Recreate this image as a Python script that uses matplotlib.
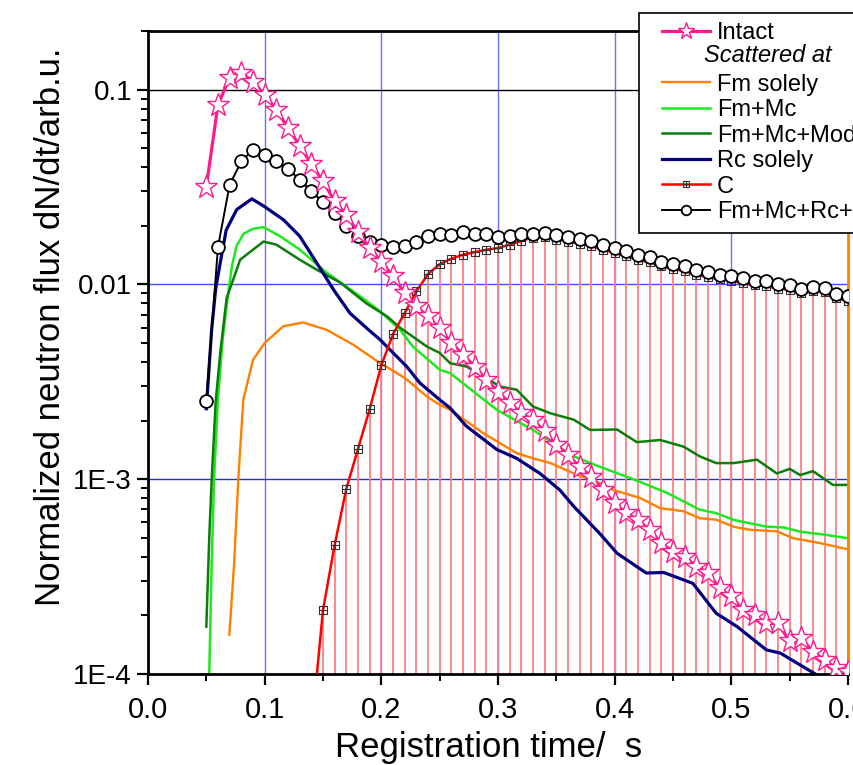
import numpy as np
import matplotlib
matplotlib.use("Agg")
import matplotlib.pyplot as plt
from matplotlib.path import Path
from matplotlib.lines import Line2D
from matplotlib.legend_handler import HandlerLine2D
from matplotlib.ticker import FixedLocator, FixedFormatter, NullFormatter

plt.rcParams['font.family'] = ['Liberation Sans', 'DejaVu Sans']

# ---------------- data ----------------
t_grid = np.round(np.arange(0.05, 0.6051, 0.01), 2)          # 0.05 .. 0.60

intact = [0.0318, 0.0837, 0.115, 0.122, 0.110, 0.0942, 0.0789, 0.0635, 0.0515, 0.0415,
          0.0338, 0.0267, 0.0228, 0.0185, 0.0154, 0.0131, 0.0110, 0.00903, 0.00771, 0.00685,
          0.00597, 0.00500, 0.00436, 0.00379, 0.00324, 0.00282, 0.00246, 0.00218, 0.00202, 0.00176,
          0.00150, 0.00133, 0.00116, 0.00103, 0.00088, 0.000753, 0.000670, 0.000618, 0.000549, 0.000470,
          0.000425, 0.000401, 0.000356, 0.000330, 0.000276, 0.000250, 0.000213, 0.000201, 0.000182, 0.000182,
          0.000147, 0.000153, 0.000130, 0.000118, 0.000107, 0.000102]

total = [0.00253, 0.0156, 0.0325, 0.0428, 0.0492, 0.0464, 0.0428, 0.0392, 0.0345, 0.0301,
         0.0264, 0.0234, 0.0199, 0.0178, 0.0166, 0.0160, 0.0156, 0.0157, 0.0166, 0.0177,
         0.0182, 0.0179, 0.0186, 0.0182, 0.0182, 0.0175, 0.0177, 0.0182, 0.0182, 0.0184,
         0.0179, 0.0175, 0.0172, 0.0168, 0.0160, 0.0154, 0.0149, 0.0141, 0.0138, 0.0131,
         0.0127, 0.0124, 0.0119, 0.0116, 0.0112, 0.0110, 0.0108, 0.01045, 0.01036, 0.01005,
         0.00988, 0.0095, 0.0097, 0.0096, 0.00893, 0.00867]

t_c = np.round(np.arange(0.14, 0.6051, 0.01), 2)              # 0.14 .. 0.60
c_only = [5e-5, 2.13e-4, 4.60e-4, 8.93e-4, 1.43e-3, 2.29e-3, 3.84e-3, 5.56e-3, 7.13e-3, 9.2e-3,
          0.0113, 0.0127, 0.01356, 0.01422, 0.01466, 0.01507, 0.01538, 0.0160, 0.01676, 0.0174,
          0.0176, 0.0170, 0.0166, 0.0162, 0.0158, 0.0151, 0.0145, 0.0140, 0.0133, 0.0130,
          0.0124, 0.0120, 0.0117, 0.0112, 0.0109, 0.0106, 0.0104, 0.0102, 0.0099, 0.0098,
          0.0095, 0.0094, 0.0090, 0.0092, 0.0091, 0.0085, 0.0082]

t_rc = [0.05, 0.0545, 0.058, 0.062, 0.067, 0.076, 0.089, 0.0994, 0.116, 0.130, 0.1446, 0.159,
        0.173, 0.189, 0.199, 0.2217, 0.233, 0.25, 0.259, 0.273, 0.299, 0.316, 0.336, 0.353,
        0.365, 0.387, 0.402, 0.427, 0.442, 0.467, 0.487, 0.505, 0.530, 0.542, 0.572, 0.58]
rc_solely = [0.0023, 0.0058, 0.0095, 0.013, 0.019, 0.0242, 0.0275, 0.0252, 0.0215, 0.0177, 0.0129, 0.0094,
             0.00713, 0.00585, 0.0052, 0.00379, 0.00312, 0.00256, 0.00232, 0.00187, 0.00142, 0.00128, 0.00107, 0.00088,
             7.24e-4, 5.28e-4, 4.17e-4, 3.30e-4, 3.32e-4, 2.92e-4, 2.05e-4, 1.75e-4, 1.33e-4, 1.28e-4, 1.0e-4, 9.2e-5]

t_fmmc = [0.0525, 0.0545, 0.0566, 0.060, 0.064, 0.068, 0.072, 0.076, 0.082, 0.090, 0.099, 0.113,
          0.130, 0.153, 0.182, 0.199, 0.216, 0.227, 0.25, 0.259, 0.299, 0.330, 0.365, 0.387,
          0.416, 0.445, 0.473, 0.487, 0.502, 0.530, 0.545, 0.559, 0.579, 0.60]
fm_mc = [1e-4, 3.5e-4, 1e-3, 2.6e-3, 5.2e-3, 8.3e-3, 0.0125, 0.0158, 0.0182, 0.0193, 0.0197, 0.0177,
         0.0151, 0.0115, 0.00867, 0.00727, 0.00585, 0.0048, 0.00365, 0.0035, 0.00227, 0.00179, 0.00131, 0.00116,
         0.00100, 8.5e-4, 6.97e-4, 6.7e-4, 6.18e-4, 5.71e-4, 5.65e-4, 5.38e-4, 5.2e-4, 4.98e-4]

t_mod = [0.050, 0.0525, 0.0546, 0.058, 0.062, 0.0674, 0.079, 0.099, 0.110, 0.130, 0.1446, 0.165,
         0.187, 0.205, 0.216, 0.239, 0.25, 0.259, 0.273, 0.287, 0.302, 0.316, 0.330, 0.345,
         0.365, 0.379, 0.402, 0.419, 0.439, 0.459, 0.473, 0.487, 0.502, 0.522, 0.539, 0.550,
         0.559, 0.570, 0.587, 0.60]
fm_mc_mod = [1.75e-4, 5e-4, 1e-3, 2.5e-3, 4.5e-3, 0.0085, 0.0134, 0.0166, 0.0160, 0.0134, 0.0119, 0.0102,
             0.0080, 0.00685, 0.0060, 0.0048, 0.00445, 0.00394, 0.00379, 0.00337, 0.00299, 0.00288, 0.00236, 0.00218,
             0.00202, 0.00179, 0.0018, 0.00155, 0.00159, 0.00147, 0.00131, 0.00121, 0.00121, 0.00126, 0.00107, 0.00113,
             0.00105, 0.0011, 9.35e-4, 9.35e-4]

t_fm = [0.0697, 0.0737, 0.0774, 0.0817, 0.090, 0.100, 0.116, 0.133, 0.153, 0.176, 0.199, 0.216,
        0.222, 0.239, 0.25, 0.259, 0.287, 0.316, 0.330, 0.345, 0.365, 0.387, 0.399, 0.422,
        0.439, 0.459, 0.473, 0.487, 0.502, 0.516, 0.539, 0.553, 0.576, 0.599]
fm_solely = [1.59e-4, 3.6e-4, 1e-3, 0.00256, 0.0041, 0.0050, 0.0061, 0.00638, 0.00585, 0.0049, 0.00394, 0.00343,
             0.00324, 0.00266, 0.00241, 0.00227, 0.00173, 0.00136, 0.00128, 0.00121, 0.00107, 9.55e-4, 8.8e-4, 8.0e-4,
             7.1e-4, 6.85e-4, 6.3e-4, 6.2e-4, 5.7e-4, 5.5e-4, 5.4e-4, 4.98e-4, 4.7e-4, 4.38e-4]

x_ticks = [0.0, 0.1, 0.2, 0.3, 0.4, 0.5, 0.6]
x_tick_labels = ['0.0', '0.1', '0.2', '0.3', '0.4', '0.5', '0.6']
y_ticks = [1e-4, 1e-3, 1e-2, 1e-1]
y_tick_labels = ['1E-4', '1E-3', '0.01', '0.1']
legend_labels = ['Intact', 'Scattered at', 'Fm solely', 'Fm+Mc', 'Fm+Mc+Mod', 'Rc solely', 'C', 'Fm+Mc+Rc+C']

# ---------------- figure ----------------
fig = plt.figure(figsize=(8.54, 7.65), dpi=100)
ax = fig.add_axes([148/854, 91/765, 700/854, 643/765])
ax.set_yscale('log')
ax.set_xlim(0.0, 0.6)
ax.set_ylim(1e-4, 0.2)

# grid-like reference lines
for xv in [0.1, 0.2, 0.3, 0.4, 0.5]:
    ax.axvline(xv, color='#6f6fff', lw=1.0, zorder=0.5)
ax.axhline(0.1, color='black', lw=1.0, zorder=0.5)
ax.axhline(0.01, color='#4a4aff', lw=1.0, zorder=0.5)
ax.axhline(0.001, color='#2a2aee', lw=1.0, zorder=0.5)

# C drop lines
ax.vlines(t_c, 1e-4, c_only, colors='#ff8080', lw=1.3, zorder=1)

pink = '#ff1a8c'
l_fm, = ax.plot(t_fm, fm_solely, color='#ff8000', lw=1.7, zorder=2)
l_fmmc, = ax.plot(t_fmmc, fm_mc, color='#1ee81e', lw=1.8, zorder=2)
l_mod, = ax.plot(t_mod, fm_mc_mod, color='#0a7d0a', lw=1.8, zorder=2)
l_rc, = ax.plot(t_rc, rc_solely, color='#000080', lw=2.3, zorder=2.2)

sqplus = Path([(-1, -1), (1, -1), (1, 1), (-1, 1), (-1, -1), (0, -1), (0, 1), (-1, 0), (1, 0)],
              [Path.MOVETO, Path.LINETO, Path.LINETO, Path.LINETO, Path.CLOSEPOLY,
               Path.MOVETO, Path.LINETO, Path.MOVETO, Path.LINETO])
l_c, = ax.plot(t_c, c_only, color='#ff0000', lw=1.8, marker=sqplus, ms=5.5, mfc='none',
               mec='#333333', mew=0.8, zorder=3)
l_tot, = ax.plot(t_grid, total, color='black', lw=1.4, marker='o', ms=9.2, mfc='white', mec='black',
                 mew=1.3, zorder=3.5)
l_int, = ax.plot(t_grid, intact, color=pink, lw=2.3, marker='*', ms=17, mfc='white', mec=pink,
                 mew=1.0, zorder=4)

# axes styling
for s in ['left', 'bottom', 'top']:
    ax.spines[s].set_linewidth(2.0)
    ax.spines[s].set_color('black')
ax.spines['right'].set_color('#ff8000')
ax.spines['right'].set_linewidth(2.0)

ax.xaxis.set_major_locator(FixedLocator(x_ticks))
ax.xaxis.set_major_formatter(FixedFormatter(x_tick_labels))
ax.xaxis.set_minor_locator(FixedLocator([0.05, 0.15, 0.25, 0.35, 0.45, 0.55]))
ax.yaxis.set_major_locator(FixedLocator(y_ticks))
ax.yaxis.set_major_formatter(FixedFormatter(y_tick_labels))
ax.yaxis.set_minor_locator(matplotlib.ticker.LogLocator(base=10, subs=np.arange(2, 10), numticks=20))
ax.yaxis.set_minor_formatter(NullFormatter())
ax.tick_params(which='major', direction='out', length=8, width=1.6, labelsize=20, top=False, right=False)
ax.tick_params(which='minor', direction='out', length=5, width=1.4, top=False, right=False)
ax.tick_params(axis='x', which='major', labelsize=21, pad=8)

ax.set_xlabel('Registration time/  s', fontsize=25)
ax.xaxis.set_label_coords(0.487, -0.088)
ax.set_ylabel('Normalized neutron flux dN/dt/arb.u.', fontsize=25)
ax.yaxis.set_label_coords(-0.115, 0.54)

# legend
blank = Line2D([], [], color='none')
handles = [l_int, blank, l_fm, l_fmmc, l_mod, l_rc, l_c, l_tot]
labels = list(legend_labels)
labels[1] = ' '
leg = ax.legend(handles, labels, loc='upper left', bbox_to_anchor=(639/854, 1 - 13/765),
                bbox_transform=fig.transFigure, fontsize=17, frameon=True, fancybox=False,
                edgecolor='black', framealpha=1, borderpad=0.4, labelspacing=0.15,
                handlelength=2.6, handletextpad=0.3, borderaxespad=0, markerscale=0.75,
                handler_map={Line2D: HandlerLine2D(xpad=0.58)})
leg.get_frame().set_linewidth(1.2)
leg.set_zorder(10)
fig.text(704/854, 1 - 55/765, legend_labels[1], fontsize=17, fontstyle='italic',
         ha='left', va='center', zorder=20)

fig.savefig('out.png', dpi=100)
